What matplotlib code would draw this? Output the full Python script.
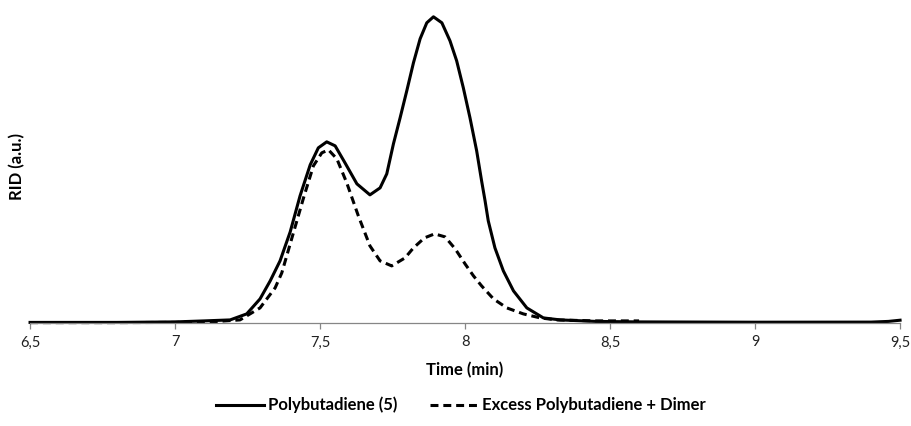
import matplotlib
matplotlib.use("Agg")
import matplotlib.pyplot as plt
from matplotlib.ticker import FixedLocator, FuncFormatter

plt.rcParams["font.family"] = ["Lato", "DejaVu Sans"]

# chromatogram traces (time in min, detector signal in a.u.)
poly_time = [6.50, 6.80, 7.00, 7.10, 7.19, 7.247, 7.293, 7.328, 7.362, 7.397,
             7.431, 7.466, 7.494, 7.523, 7.552, 7.586, 7.627, 7.672, 7.707, 7.730,
             7.753, 7.776, 7.799, 7.822, 7.845, 7.868, 7.891, 7.920, 7.948, 7.971,
             7.994, 8.017, 8.040, 8.057, 8.069, 8.080, 8.103, 8.132, 8.167, 8.213,
             8.27, 8.328, 8.45, 8.6, 9.0, 9.4, 9.46, 9.5]
poly_rid = [0.5, 0.5, 1, 2, 3, 9, 24, 42, 62, 91,
            127, 158, 175, 181, 177, 160, 139, 128, 135, 149,
            179, 205, 232, 260, 284, 300, 306, 300, 282, 262,
            235, 205, 172, 142, 122, 102, 75, 52, 32, 15,
            5, 3, 1.5, 1, 0.7, 0.8, 1.5, 2.7]

excess_time = [6.50, 6.80, 7.00, 7.12, 7.224, 7.293, 7.345, 7.368, 7.402, 7.443,
               7.477, 7.506, 7.529, 7.558, 7.592, 7.632, 7.672, 7.707, 7.747, 7.793,
               7.822, 7.86, 7.895, 7.931, 7.966, 8.00, 8.029, 8.057, 8.098, 8.144,
               8.201, 8.259, 8.316, 8.45, 8.6]
excess_rid = [0.3, 0.3, 0.5, 1, 3, 15, 35, 50, 84, 125,
              157, 170, 173, 164, 140, 107, 77, 62, 57, 65,
              75, 85, 89, 86, 74, 59, 47, 37, 24, 15,
              9, 5, 3, 2, 2]

x_ticks = [6.5, 7, 7.5, 8, 8.5, 9, 9.5]

fig = plt.figure(figsize=(9.11, 4.26), dpi=100)
ax = fig.add_axes([0.033, 0.242, 0.955, 0.735])

ax.plot(poly_time, poly_rid, color="black", lw=2.2, clip_on=False,
        solid_joinstyle="round", label="Polybutadiene (5)")
ax.plot(excess_time, excess_rid, color="black", lw=2.2, clip_on=False,
        dashes=(2.6, 1.6), dash_joinstyle="round",
        label="Excess Polybutadiene + Dimer")

ax.set_xlim(6.5, 9.5)
ax.set_ylim(0, 313)

for side in ("top", "right", "left"):
    ax.spines[side].set_visible(False)
ax.spines["bottom"].set_color("#868686")
ax.spines["bottom"].set_linewidth(0.9)

ax.xaxis.set_major_locator(FixedLocator(x_ticks))
ax.xaxis.set_major_formatter(FuncFormatter(lambda v, p: f"{v:g}".replace(".", ",")))
ax.tick_params(axis="x", colors="#868686", length=4, width=0.9, labelsize=10.5,
               labelcolor="#222222", pad=5)
ax.set_yticks([])

ax.set_xlabel("Time (min)", fontsize=12, fontweight="bold", labelpad=9)
ax.set_ylabel("RID (a.u.)", fontsize=12, fontweight="bold")
ax.yaxis.set_label_coords(-0.006, 0.5)

fig.legend(loc="center", bbox_to_anchor=(0.506, 0.049), ncol=2, frameon=False,
           prop={"weight": "bold", "size": 12}, handlelength=2.9,
           handletextpad=0.2, columnspacing=2.0)

fig.savefig("out.png", dpi=100)
